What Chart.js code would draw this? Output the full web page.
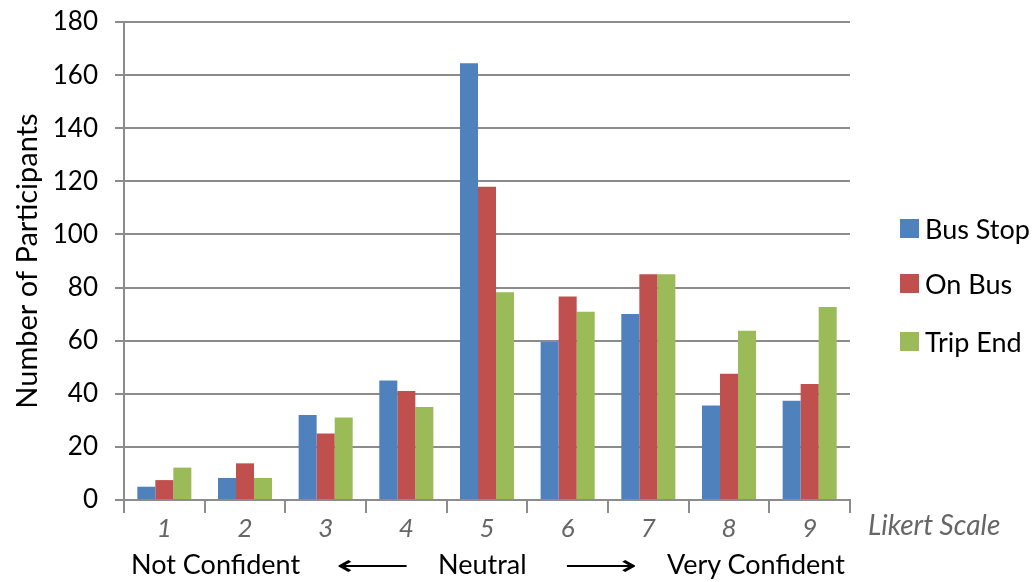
<!DOCTYPE html>
<html>
<head>
<meta charset="utf-8">
<script src="https://cdn.jsdelivr.net/npm/chart.js@4"></script>
<style>
    body { margin: 0; background: #fff; font-family: Lato, sans-serif; }
    #wrap { position: relative; width: 1035px; height: 582px; }
    .legend { position: absolute; left: 900px; font-size: 27px; color: #000; display: flex; align-items: center; }
    .legend span.box { width: 19px; height: 19px; margin-right: 6px; display: inline-block; }
    .likert { position: absolute; left: 868px; top: 507px; font-size: 28px; font-style: italic; color: #666; }
    .bottom { position: absolute; top: 547px; font-size: 27px; color: #000; }
    .arrow { position: absolute; top: 547px; font-size: 27px; color: #000; transform-origin: left center; transform: scaleX(1.9); }
</style>
</head>
<body>
<div id="wrap">
    <canvas id="myChart" width="1035" height="582"></canvas>
    <div class="legend" style="top:212px"><span class="box" style="background:#4f81bd"></span>Bus Stop</div>
    <div class="legend" style="top:267px"><span class="box" style="background:#c0504d"></span>On Bus</div>
    <div class="legend" style="top:325px"><span class="box" style="background:#9bbb59"></span>Trip End</div>
    <div class="likert">Likert Scale</div>
    <div class="bottom" style="left:131px">Not Confident</div>
    <div class="arrow" style="left:336px">&#x27F5;</div>
    <div class="bottom" style="left:438px">Neutral</div>
    <div class="arrow" style="left:564px">&#x27F6;</div>
    <div class="bottom" style="left:667px">Very Confident</div>
</div>
<script>
// Likert categories and counts per condition
const categories = ['1', '2', '3', '4', '5', '6', '7', '8', '9'];
const busStop = [5, 8.3, 32, 45, 164.5, 59.5, 70, 35.6, 37.4];
const onBus = [7.5, 13.8, 25, 41, 118, 76.6, 85, 47.5, 43.7];
const tripEnd = [12.2, 8.3, 31.1, 35, 78.2, 70.9, 85, 63.7, 72.7];
const yTicks = [0, 20, 40, 60, 80, 100, 120, 140, 160, 180];

const gridColor = '#8c8c8c';

var ctx = document.getElementById('myChart').getContext('2d');
var myChart = new Chart(ctx, {
    type: 'bar',
    data: {
        labels: categories,
        datasets: [
            { label: 'Bus Stop', data: busStop, backgroundColor: '#4f81bd' },
            { label: 'On Bus', data: onBus, backgroundColor: '#c0504d' },
            { label: 'Trip End', data: tripEnd, backgroundColor: '#9bbb59' }
        ]
    },
    options: {
        responsive: false,
        animation: false,
        layout: {
            padding: { left: 10, right: 185, top: 22, bottom: 0 }
        },
        plugins: {
            legend: { display: false },
            tooltip: { enabled: false }
        },
        datasets: {
            bar: { categoryPercentage: 0.67, barPercentage: 1.0 }
        },
        scales: {
            x: {
                offset: true,
                grid: {
                    display: true,
                    offset: true,
                    drawOnChartArea: false,
                    drawTicks: true,
                    tickLength: 13,
                    color: gridColor,
                    lineWidth: 2
                },
                border: { color: gridColor, width: 2 },
                ticks: {
                    color: '#666',
                    font: { family: 'Lato', size: 26, style: 'italic' },
                    padding: 0
                },
                afterFit: function(scale) { scale.height = 82; }
            },
            y: {
                min: 0,
                max: 180,
                afterBuildTicks: function(scale) {
                    scale.ticks = yTicks.map(v => ({ value: v }));
                },
                grid: {
                    color: gridColor,
                    lineWidth: 2,
                    tickLength: 9
                },
                border: { color: gridColor, width: 2 },
                ticks: {
                    color: '#000',
                    font: { family: 'Lato', size: 26 },
                    padding: 17
                },
                title: {
                    display: true,
                    text: 'Number of Participants',
                    color: '#000',
                    font: { family: 'Lato', size: 29 },
                    padding: 0
                },
                afterFit: function(scale) {
                    scale.width = 114;
                    scale.paddingTop = 0;
                    scale.paddingBottom = 0;
                }
            }
        }
    }
});
</script>
</body>
</html>
